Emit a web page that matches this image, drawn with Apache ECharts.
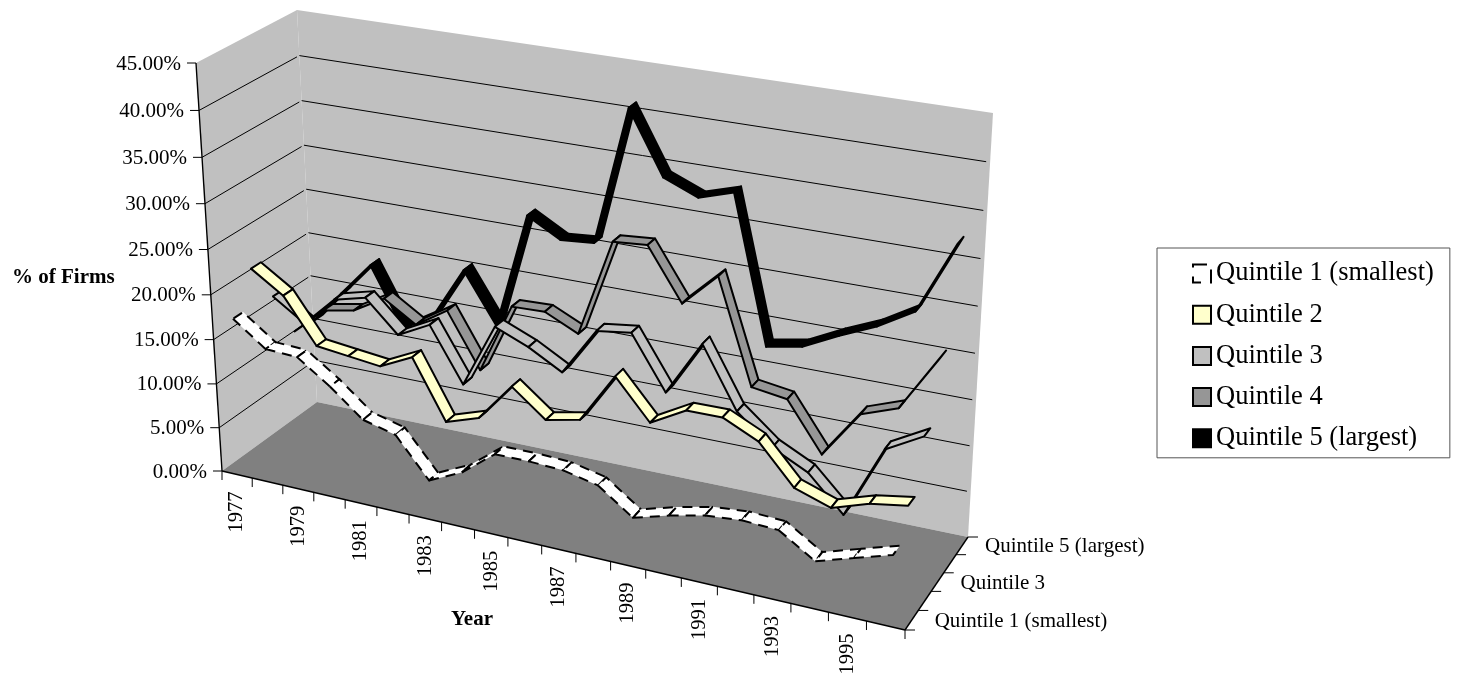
<!DOCTYPE html>
<html>
<head>
<meta charset="utf-8">
<style>html,body{margin:0;padding:0;background:#fff}#c{width:1460px;height:675px}</style>
<script src="https://cdn.jsdelivr.net/npm/echarts@6/dist/echarts.min.js"></script>
</head>
<body>
<div id="c"></div>
<script>
var years = ['1977','1978','1979','1980','1981','1982','1983','1984','1985','1986','1987','1988','1989','1990','1991','1992','1993','1994','1995','1996'];
var yTicks = [0,5,10,15,20,25,30,35,40,45];
var yTickLabels = ['0.00%','5.00%','10.00%','15.00%','20.00%','25.00%','30.00%','35.00%','40.00%','45.00%'];
var depthLabels = ['Quintile 1 (smallest)','','Quintile 3','','Quintile 5 (largest)'];
var q1Name = 'Quintile 1 (smallest)', q2Name = 'Quintile 2', q3Name = 'Quintile 3', q4Name = 'Quintile 4', q5Name = 'Quintile 5 (largest)';
var q1 = [17.31,14.64,14.45,11.92,8.97,8.06,3.79,5.49,8.30,8.33,8.16,7.35,4.70,5.78,6.64,6.98,6.80,4.41,5.63,6.83];
var q2 = [21.44,19.09,14.14,13.73,13.31,15.05,8.60,9.82,14.02,11.14,11.92,17.35,13.15,15.23,15.26,13.49,9.41,8.13,9.40,10.05];
var q3 = [16.87,14.47,17.85,18.75,15.26,17.09,11.16,18.27,16.75,14.71,19.93,20.43,14.75,20.68,14.22,11.12,9.24,5.53,13.32,15.48];
var q4 = [11.39,14.48,15.15,17.18,14.90,17.18,11.17,18.99,19.11,17.37,28.03,28.34,22.75,26.35,15.18,14.63,9.42,14.55,15.96,21.98];
var q5 = [11.09,15.00,18.87,12.26,14.44,20.25,14.65,27.59,25.55,25.86,40.91,34.18,32.64,33.80,17.96,18.68,20.59,22.28,24.58,32.34];

var FONT = '"Liberation Serif","Times New Roman",serif';
var GRID = {left:200, top:100, width:600, height:400};

// perspective view of the chart cube: floor and ceiling quads
function warp(x,w){return w*x/((1-x)+w*x);}
function quad(A,B,C,D){
  return function(u,d){
    var s=warp(u,0.88),t=warp(d,1.065);
    function mix(n){
      var front=A[n]+(B[n]-A[n])*s,back=D[n]+(C[n]-D[n])*s;
      return front+(back-front)*t;
    }
    return [mix(0),mix(1)];
  };
}
var floorQ = quad([222,471],[905,630],[968,537],[317,402]);
var ceilQ  = quad([196,63],[935,175],[993,113],[297,10]);
function project(u,v,d){
  var f=floorQ(u,d),t=ceilQ(u,d),g=v*0.95/(1-0.05*v);
  return [f[0]+(t[0]-f[0])*g,f[1]+(t[1]-f[1])*g];
}
function norm(px){return [(px[0]-GRID.left)/GRID.width,1-(px[1]-GRID.top)/GRID.height];}
function line(a,b,w,color){
  return {type:'line',shape:{x1:a[0],y1:a[1],x2:b[0],y2:b[1]},style:{stroke:color||'#000',lineWidth:w||1}};
}
function text(str,x,y,align,size,bold,rot){
  return {type:'text',x:x,y:y,rotation:rot||0,style:{text:str,x:0,y:0,fill:'#000',
    font:(bold?'bold ':'')+size+'px '+FONT,textAlign:align,align:align,textVerticalAlign:'middle',verticalAlign:'middle'}};
}
function poly(pts,fill){return {type:'polygon',shape:{points:pts},style:{fill:fill,stroke:'none'}};}

function ribbon(values,depth,fill,dash){
  var half=0.05;
  return function(params,api){
    var i=params.dataIndex;
    if(i>=values.length-1) return null;
    var a=norm(api.coord([i,values[i]])),b=norm(api.coord([i+1,values[i+1]]));
    var pts=[project(a[0],a[1],depth-half),project(b[0],b[1],depth-half),
             project(b[0],b[1],depth+half),project(a[0],a[1],depth+half)];
    return {type:'polygon',shape:{points:pts},
      style:{fill:fill,stroke:'#000',lineWidth:2,lineJoin:'round',lineDash:dash||null}};
  };
}
function ribbonSeries(name,values,slot,fill,dash){
  return {name:name,type:'custom',coordinateSystem:'cartesian2d',clip:false,silent:true,animation:false,
    encode:{x:0,y:1},data:values.map(function(v,i){return [i,v];}),
    itemStyle:{color:fill,borderColor:'#000'},
    renderItem:ribbon(values,(slot+0.5)/5,fill,dash)};
}
function sceneSeries(data,fn){
  return {type:'custom',coordinateSystem:'cartesian2d',clip:false,silent:true,animation:false,
    encode:{x:0,y:1},data:data,renderItem:fn};
}

var walls = sceneSeries([[0,0]],function(){
  var c=project;
  return {type:'group',children:[
    poly([c(0,0,0),c(0,0,1),c(0,1,1),c(0,1,0)],'#C0C0C0'),
    poly([c(0,0,1),c(1,0,1),c(1,1,1),c(0,1,1)],'#C0C0C0'),
    poly([c(0,0,0),c(1,0,0),c(1,0,1),c(0,0,1)],'#808080')
  ]};
});
var yScale = sceneSeries(yTicks.map(function(v){return [0,v];}),function(params,api){
  var i=params.dataIndex,v=norm(api.coord([0,yTicks[i]]))[1];
  var p=project(0,v,0),kids=[];
  if(i>0&&i<yTicks.length-1){
    kids.push(line(p,project(0,v,0.975)));
    kids.push(line(project(0,v,1),project(0.995,v,1)));
  }
  kids.push(line(p,[p[0]-9,p[1]]));
  kids.push(text(yTickLabels[i],p[0]-15,p[1]+1,'right',21));
  return {type:'group',children:kids};
});
var xScale = sceneSeries(years.map(function(y,i){return [i,0];}),function(params,api){
  var i=params.dataIndex,n=years.length,u=norm(api.coord([i,0]))[0],half=0.5/n;
  var l=project(u-half,0,0),m=project(u,0,0),kids=[line(l,[l[0],l[1]+9])];
  if(i===n-1){var r=project(u+half,0,0);kids.push(line(r,[r[0],r[1]+9]));}
  if(i%2===0) kids.push(text(years[i],m[0],m[1]+17,'right',20.5,false,Math.PI/2));
  return {type:'group',children:kids};
});
var frame = sceneSeries([[0,0]],function(){
  var kids=[line(project(0,1,0),project(0,0,0),1.4),line(project(0,0,0),project(1,0,0),1.4),line(project(1,0,0),project(1,0,1),1.4)];
  for(var k=0;k<=5;k++){var p=project(1,0,k/5);kids.push(line(p,[p[0]+10,p[1]]));}
  depthLabels.forEach(function(t,k){
    if(!t)return;
    var p=project(1,0,(k+0.5)/5);
    kids.push(text(t,p[0]+23,p[1]+1,'left',21));
  });
  kids.push(text('% of Firms',12,278,'left',21,true));
  kids.push(text('Year',451,620,'left',21,true));
  return {type:'group',children:kids};
});

var chart = echarts.init(document.getElementById('c'),null,{renderer:'canvas'});
chart.setOption({
  animation:false,
  backgroundColor:'#fff',
  grid:GRID,
  xAxis:{type:'category',data:years,show:false,boundaryGap:true},
  yAxis:{type:'value',min:0,max:45,interval:5,show:false},
  legend:{
    orient:'vertical',left:1157,top:248,padding:[12,16,6,35],itemWidth:18,itemHeight:18,itemGap:14.2,
    backgroundColor:'#fff',borderColor:'#555',borderWidth:1,borderRadius:0,selectedMode:false,
    icon:'rect',align:'left',
    textStyle:{fontFamily:FONT,fontSize:26.5,color:'#000',lineHeight:26},
    data:[
      {name:q1Name,itemStyle:{color:'#fff',borderColor:'#000',borderWidth:2,borderType:[14,9]}},
      {name:q2Name,itemStyle:{color:'#FFFFCC',borderColor:'#000',borderWidth:2}},
      {name:q3Name,itemStyle:{color:'#C0C0C0',borderColor:'#000',borderWidth:2}},
      {name:q4Name,itemStyle:{color:'#969696',borderColor:'#000',borderWidth:2}},
      {name:q5Name,itemStyle:{color:'#000',borderColor:'#000',borderWidth:2}}
    ]
  },
  series:[
    walls, yScale, xScale, frame,
    ribbonSeries(q5Name,q5,4,'#000000'),
    ribbonSeries(q4Name,q4,3,'#969696'),
    ribbonSeries(q3Name,q3,2,'#C0C0C0'),
    ribbonSeries(q2Name,q2,1,'#FFFFCC'),
    ribbonSeries(q1Name,q1,0,'#FFFFFF',[10,7])
  ]
});
</script>
</body>
</html>
